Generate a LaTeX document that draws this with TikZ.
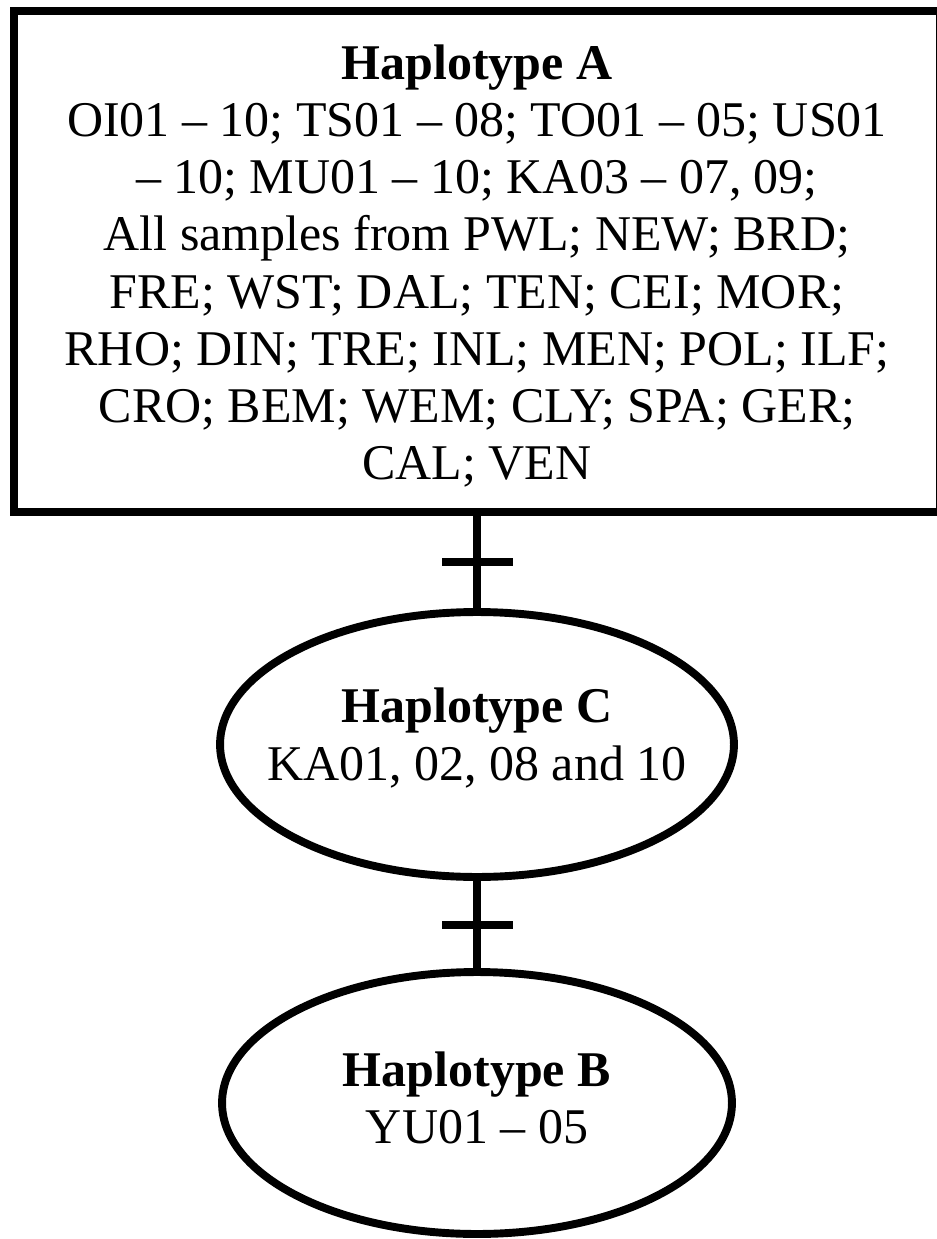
\documentclass[tikz,border=0pt]{standalone}
\usepackage{fontspec}
\setmainfont{Liberation Serif}
\usetikzlibrary{shapes,arrows,positioning,calc}
\tikzstyle{hbox} = [rectangle, draw, line width=4.5pt, minimum width=18.52cm, minimum height=10.02cm, inner sep=0pt]
\tikzstyle{hell} = [ellipse, draw, line width=4.5pt, inner sep=0pt]
\tikzstyle{htext} = [align=center, inner sep=0pt, font=\fontsize{28.45}{32.5}\selectfont]
\tikzstyle{link} = [draw, line width=4.5pt]
\tikzstyle{tick} = [rectangle, fill=black, minimum width=1.42cm, minimum height=0.16cm, inner sep=0pt]

\begin{document}
\begin{tikzpicture}[x=0.02cm, y=-0.02cm]
\useasboundingbox (0,0) rectangle (936,1239);
\node [hbox] (A) at (477,261.5) {};
\node [htext] (Atxt) at (477,266) {\textbf{Haplotype A}\\
OI01 – 10; TS01 – 08; TO01 – 05; US01\\
– 10; MU01 – 10; KA03 – 07, 09;\\
All samples from PWL; NEW; BRD;\\
FRE; WST; DAL; TEN; CEI; MOR;\\
RHO; DIN; TRE; INL; MEN; POL; ILF;\\
CRO; BEM; WEM; CLY; SPA; GER;\\
CAL; VEN};

\node [hell, minimum width=10.28cm, minimum height=5.3cm] (C) at (477,744.5) {};
\node [htext] (Ctxt) at (477,738) {\textbf{Haplotype C}\\ KA01, 02, 08 and 10};

\node [hell, minimum width=10.2cm, minimum height=5.24cm] (B) at (477,1103) {};
\node [htext] (Btxt) at (477,1098) {\textbf{Haplotype B}\\ YU01 – 05};

\draw [link] (A) -- node[tick] (t1) {} (C);
\draw [link] (C) -- node[tick] (t2) {} (B);
\end{tikzpicture}
\end{document}
